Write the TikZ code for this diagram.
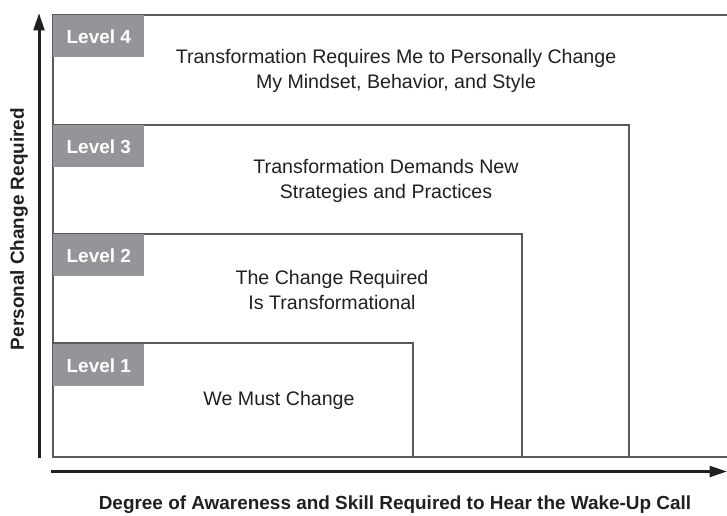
\documentclass[tikz,border=0pt]{standalone}
\usepackage{fontspec}
\setmainfont{Liberation Sans}
\usetikzlibrary{arrows.meta}
\definecolor{lvlgray}{RGB}{147,149,152}
\definecolor{boxline}{RGB}{88,89,91}
\definecolor{inkgray}{RGB}{35,31,32}
\begin{document}
\begin{tikzpicture}[x=0.75pt,y=0.75pt,yscale=-1,xscale=1,
  levelbox/.style={draw=boxline,line width=0.9pt},
  leveltag/.style={fill=lvlgray,text=white,font=\bfseries\fontsize{14.2}{16}\selectfont,minimum width=68.25pt,minimum height=31.5pt,inner sep=0pt,anchor=north west},
  boxtext/.style={text=inkgray,font=\fontsize{14.7}{19}\selectfont,align=center},
  axislabel/.style={text=inkgray,font=\bfseries\fontsize{14.2}{16}\selectfont},
  axisline/.style={draw=inkgray,line width=2.25pt,-{Triangle[length=13pt,width=8pt]}}]
\useasboundingbox (0,0) rectangle (727,515);

% Level boxes
\draw [levelbox] (53,15) rectangle (745,457) ;
\draw [levelbox] (53,125) rectangle (629,457) ;
\draw [levelbox] (53,234) rectangle (522,457) ;
\draw [levelbox] (53,343) rectangle (413,457) ;

% Level tags
\node [leveltag] (tag4) at (53,15) {Level 4};
\node [leveltag] (tag3) at (53,125) {Level 3};
\node [leveltag] (tag2) at (53,234) {Level 2};
\node [leveltag] (tag1) at (53,344) {Level 1};

% Text Node
\node [boxtext] (text4) at (396,71) {Transformation Requires Me to Personally Change\\My Mindset, Behavior, and Style};
% Text Node
\node [boxtext] (text3) at (386,181) {Transformation Demands New\\Strategies and Practices};
% Text Node
\node [boxtext] (text2) at (332,290) {The Change Required\\Is Transformational};
% Text Node
\node [boxtext] (text1) at (279,400) {We Must Change};

% Axes
\coordinate (yfoot) at (39,458);
\coordinate (ytip) at (39,13);
\coordinate (xfoot) at (51,471.5);
\coordinate (xtip) at (727,471.5);
\draw [axisline] (yfoot) -- (ytip) ;
\draw [axisline] (xfoot) -- (xtip) ;

% Axis labels
\node [axislabel,rotate=90] (ylabel) at (19,229) {Personal Change Required};
\node [axislabel] (xlabel) at (395,505) {Degree of Awareness and Skill Required to Hear the Wake-Up Call};

\end{tikzpicture}
\end{document}
